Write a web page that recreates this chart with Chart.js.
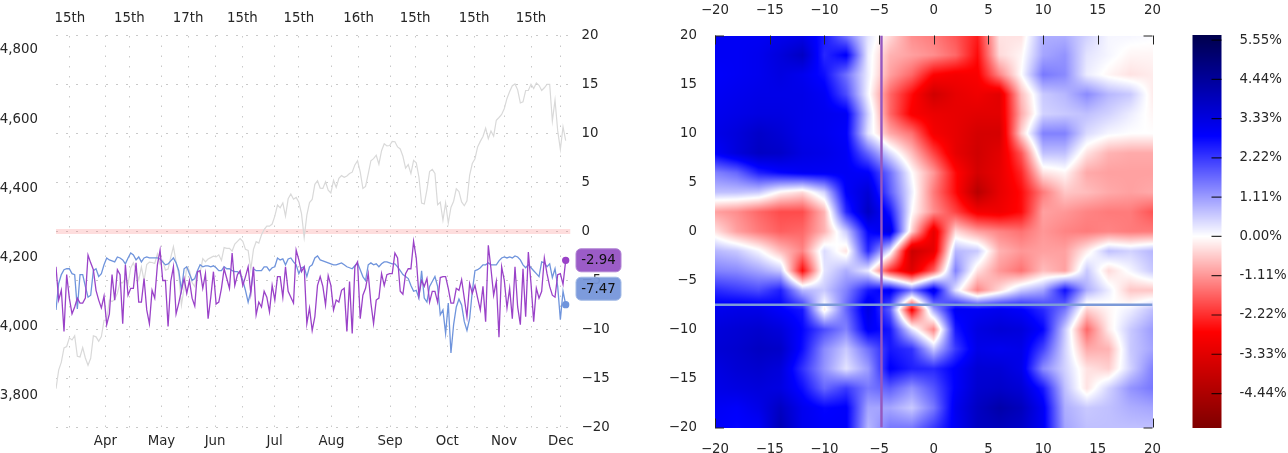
<!DOCTYPE html>
<html>
<head>
<meta charset="utf-8">
<script src="https://cdn.jsdelivr.net/npm/chart.js@4/dist/chart.umd.min.js"></script>
<style>
  html, body { margin: 0; padding: 0; background: #fff; }
  canvas { position: absolute; top: 0; }
</style>
</head>
<body>
<canvas id="lineChart" width="650" height="453" style="left:0"></canvas>
<canvas id="heatChart" width="510" height="453" style="left:660px"></canvas>
<canvas id="barChart" width="108" height="453" style="left:1180px"></canvas>
<script>
// left panel, one value per trading day
const indexValues = [
  3821,3875,3898,3939,3943,3968,3962,3974,3915,3913,3940,3910,3889,3909,3974,3971,3958,3972,
  4019,4019,4077,4073,4079,4097,4128,4127,4141,4124,4170,4185,4163,4135,4173,4134,4180,4187,4186,4183,4211,4181,
  4192,4164,4167,4201,4232,4188,4152,4063,4112,4173,4163,4128,4116,4160,4156,4197,4188,4196,4200,4204,
  4202,4208,4192,4229,4227,4227,4219,4239,4247,4255,4247,4224,4221,4166,4224,4246,4242,4266,4281,4291,4291,4297,
  4320,4352,4344,4358,4320,4370,4384,4369,4374,4360,4327,4258,4323,4359,4368,4412,4422,4401,4400,4419,4395,
  4387,4423,4403,4429,4437,4432,4436,4443,4447,4468,4480,4448,4400,4406,4442,4480,4486,4496,4470,4509,4529,4523,
  4524,4536,4535,4520,4514,4493,4459,4469,4443,4481,4474,4433,4358,4355,4396,4449,4455,4443,4353,4360,4308,
  4358,4300,4345,4363,4399,4391,4361,4350,4364,4438,4472,4486,4520,4536,4550,4574,4544,4566,4551,4597,4605,
  4614,4631,4660,4680,4697,4702,4685,4647,4650,4683,4683,4701,4689,4705,4698,4683,4691,4701,4701,4595,4655,4567,
  4513,4578,4538
];
const purpleValues = [
  -3.6,-7.0,-6.0,-10.2,-4.4,-6.8,-8.4,-7.7,-6.8,-7.3,
  -7.3,-6.8,-2.4,-3.2,-3.9,-6.0,-7.0,-7.8,-6.6,-9.5,
  -8.4,-4.4,-7.0,-3.9,-4.4,-9.4,-3.4,-6.5,-5.8,-5.8,
  -3.2,-7.2,-7.2,-4.8,-8.0,-9.4,-6.0,-6.8,-3.4,-1.9,
  -5.0,-5.0,-9.7,-5.1,-3.6,-8.4,-7.3,-6.0,-4.8,-6.3,
  -5.0,-6.8,-7.6,-4.1,-4.0,-5.8,-4.3,-8.9,-6.7,-4.1,
  -7.4,-7.2,-5.8,-3.8,-4.8,-5.8,-2.2,-5.5,-4.4,-4.0,
  -5.5,-4.6,-3.6,-6.3,-3.6,-8.5,-7.2,-7.7,-6.1,-6.7,
  -8.2,-5.5,-7.0,-4.6,-4.6,-6.7,-3.6,-6.1,-6.7,-7.3,
  -1.9,-2.9,-4.1,-3.6,-9.4,-7.8,-10.1,-8.7,-5.5,-4.6,
  -5.6,-7.5,-4.5,-5.5,-8.0,-7.0,-7.2,-6.0,-5.8,-10.2,
  -5.1,-10.4,-3.6,-3.1,-8.9,-6.5,-5.8,-4.3,-7.3,-9.4,
  -7.0,-6.8,-4.3,-5.5,-4.4,-4.3,-4.3,-2.2,-2.7,-6.1,
  -6.4,-4.3,-3.8,-3.8,-1.0,-2.7,-6.5,-5.0,-5.6,-4.8,
  -7.2,-6.1,-6.1,-7.2,-4.7,-4.6,-4.6,-5.8,-7.3,-7.3,
  -5.8,-6.0,-4.9,-6.8,-8.7,-5.3,-6.3,-5.5,-6.8,-8.0,
  -5.6,-9.2,-1.4,-3.8,-6.5,-5.1,-10.8,-3.6,-5.0,-7.8,
  -5.8,-8.9,-3.6,-7.7,-9.5,-3.8,-8.7,-2.1,-5.3,-9.2,
  -5.8,-6.8,-6.1,-2.7,-4.3,-5.6,-6.5,-6.7,-4.4,-4.3,-5.4,-2.94
];
const blueValues = [
  -8.0,-5.3,-4.4,-3.9,-3.8,-3.8,-4.3,-4.4,-7.9,-4.4,
  -4.4,-5.6,-6.7,-6.5,-4.0,-3.8,-4.6,-4.3,-3.4,-2.7,
  -2.9,-3.0,-3.1,-2.6,-2.7,-2.9,-3.3,-2.7,-2.2,-2.4,
  -2.9,-2.6,-3.1,-2.7,-2.6,-2.7,-2.7,-2.7,-2.7,-2.8,
  -3.1,-3.4,-3.3,-3.0,-2.7,-3.2,-4.0,-6.0,-3.8,-3.6,
  -4.3,-5.0,-4.8,-4.0,-3.4,-3.6,-3.5,-3.5,-3.6,-3.5,
  -3.7,-4.0,-4.0,-3.6,-3.8,-3.8,-4.0,-4.1,-4.1,-4.3,
  -5.0,-6.0,-7.2,-6.1,-3.8,-4.0,-4.0,-4.0,-3.6,-3.6,
  -4.0,-3.7,-3.6,-2.7,-2.9,-2.8,-3.4,-2.8,-2.7,-3.1,
  -3.4,-4.3,-3.7,-3.6,-4.6,-3.6,-3.4,-2.7,-2.5,-2.9,
  -3.0,-3.1,-3.2,-3.3,-3.4,-3.4,-3.3,-3.2,-3.4,-3.6,
  -3.7,-3.8,-3.5,-3.2,-3.9,-4.6,-5.0,-3.4,-3.2,-3.4,
  -3.3,-3.6,-3.3,-3.1,-3.1,-3.2,-3.3,-3.3,-3.6,-4.0,
  -4.4,-4.6,-4.8,-5.5,-6.1,-6.0,-6.8,-4.0,-6.8,-7.2,
  -5.6,-5.1,-4.6,-5.6,-8.5,-8.0,-10.4,-7.3,-12.4,-9.5,
  -7.7,-6.9,-7.5,-9.2,-10.1,-8.9,-6.1,-4.0,-3.9,-3.7,
  -3.4,-3.4,-3.2,-3.4,-3.4,-3.4,-3.0,-2.7,-2.6,-2.7,
  -2.6,-2.7,-2.5,-2.6,-2.9,-3.4,-3.7,-3.4,-3.7,-4.0,
  -4.3,-4.6,-3.1,-3.2,-3.6,-3.3,-4.7,-3.8,-5.6,-9.0,-6.1,-7.47
];
const zeroX = [0, 192.8];
const zeroY = [0, 0];
const monthTicks = [18.5, 39.5, 59.6, 81.9, 103.2, 125.2, 146.6, 167.9, 189.2];
const monthLabels = ['Apr', 'May', 'Jun', 'Jul', 'Aug', 'Sep', 'Oct', 'Nov', 'Dec'];
const midTicks = [5.2, 27.5, 49.5, 69.8, 91, 113.4, 134.6, 156.7, 178];
const midLabels = ['15th', '15th', '17th', '15th', '15th', '16th', '15th', '15th', '15th'];
const leftTicks = [3800, 4000, 4200, 4400, 4600, 4800];
const rightTicks = [20, 15, 10, 5, 0, -5, -10, -15, -20];

// right panel, rows run y = 20 .. -20, columns x = -20 .. 20, step 2
const gridX = [-20,-18,-16,-14,-12,-10,-8,-6,-4,-2,0,2,4,6,8,10,12,14,16,18,20];
const gridY = [20,18,16,14,12,10,8,6,4,2,0,-2,-4,-6,-8,-10,-12,-14,-16,-18,-20];
const heatRows = [
  [3.0,3.0,3.0,3.1,3.2,2.6,1.5,0.3,-0.4,-1.2,-1.4,-1.8,-2.4,-0.3,-0.3,0.9,0.9,0.5,0.1,0.1,0.05],
  [3.0,3.0,3.1,3.4,3.8,2.4,2.9,0.2,-0.8,-1.0,-1.2,-1.6,-2.6,-0.4,-0.1,1.0,1.2,0.3,0.1,-0.1,-0.1],
  [2.9,3.0,3.1,3.3,3.1,2.7,1.6,0.2,-1.0,-1.6,-2.7,-2.9,-2.8,-1.3,0.0,1.5,1.3,0.2,-0.1,-0.3,-0.2],
  [3.0,3.1,3.2,3.2,3.2,3.0,2.0,0.1,-1.6,-2.6,-3.7,-3.2,-3.0,-3.3,-0.7,0.6,0.8,1.3,0.8,0.6,-0.2],
  [3.1,3.2,3.3,3.3,3.2,3.1,3.0,0.5,-1.6,-2.8,-3.1,-3.2,-3.3,-3.3,-0.9,0.5,0.6,0.7,0.5,0.2,-0.1],
  [3.2,3.4,3.7,3.5,3.2,3.1,2.9,0.3,-0.9,-1.5,-2.9,-3.2,-3.6,-3.6,-0.5,1.4,1.4,0.4,0.1,0.0,0.0],
  [2.9,3.4,3.8,3.7,3.3,3.2,3.0,1.7,0.4,-0.7,-2.0,-3.2,-3.7,-3.3,-1.8,0.7,0.7,-0.3,-0.8,-0.9,-0.9],
  [1.4,1.7,2.5,2.8,3.0,3.0,3.0,2.9,1.6,0.0,-1.1,-2.6,-3.6,-3.2,-2.3,-0.3,-0.1,-0.9,-1.0,-1.0,-1.0],
  [0.7,0.7,0.6,-0.1,-0.4,0.5,2.9,3.5,1.8,0.2,-1.4,-2.6,-4.2,-3.2,-2.6,-1.4,-0.6,-0.7,-0.9,-1.0,-0.9],
  [-1.0,-1.2,-1.6,-1.9,-1.9,-0.8,2.4,3.8,2.6,0.0,-1.2,-2.0,-2.9,-3.0,-2.6,-1.0,-1.1,-1.3,-1.4,-1.4,-1.8],
  [-0.3,-1.0,-1.4,-1.7,-1.6,-0.8,0.6,2.8,3.3,-0.5,-3.2,-0.4,-1.0,-1.3,-1.5,-1.1,-1.3,-1.4,-1.3,-1.4,-1.4],
  [0.8,0.6,0.1,-0.7,-1.3,0.4,-0.3,2.4,0.3,-3.8,-3.2,0.8,0.6,-0.8,-1.1,-1.0,-1.0,-0.2,0.7,0.5,0.8],
  [1.4,1.3,1.0,0.6,-2.6,0.3,0.9,0.2,-2.2,-3.4,-1.7,1.4,-0.3,-1.1,-1.5,-0.7,-1.0,0.6,-0.4,0.1,0.6],
  [2.4,2.2,2.0,2.5,0.8,0.6,1.4,2.6,3.0,1.6,3.2,0.3,-1.3,-0.4,0.6,1.0,2.7,0.9,0.2,-0.6,-0.6],
  [3.1,3.2,3.2,2.9,2.6,-0.2,1.7,3.3,1.8,-2.8,1.0,3.0,3.0,3.1,2.9,2.4,1.5,-0.5,-0.1,0.2,0.7],
  [3.4,3.5,3.6,3.4,2.8,2.0,1.4,3.0,2.6,0.3,-1.3,2.6,3.3,3.5,3.4,2.8,0.6,-1.6,-0.2,0.6,1.1],
  [3.5,3.6,3.8,3.7,2.7,1.3,0.6,1.6,2.6,2.3,0.6,2.2,3.2,3.1,3.2,2.1,0.5,-0.9,-0.8,0.6,1.0],
  [3.3,3.5,3.6,3.4,2.3,1.2,0.3,1.1,2.9,2.5,2.4,2.9,3.5,3.5,3.2,1.3,0.5,-0.3,-0.5,0.5,1.4],
  [3.2,3.3,3.4,3.3,2.7,1.7,2.2,1.5,1.8,1.2,1.9,2.9,3.6,3.7,3.5,2.6,0.7,-0.3,0.5,1.2,1.5],
  [3.0,2.9,3.2,3.8,3.1,2.8,2.9,1.0,1.0,0.6,1.5,3.1,3.8,4.2,3.9,3.0,0.9,0.6,0.7,0.9,1.0],
  [2.9,2.8,2.9,4.0,3.1,2.9,2.9,0.8,1.5,1.5,2.2,3.0,3.8,3.9,3.7,3.0,1.0,0.7,0.7,0.7,0.7]
];
const heatTicks = [-20, -15, -10, -5, 0, 5, 10, 15, 20];
const crossVX = [-4.78, -4.78];
const crossVY = [-20, 20];
const crossHX = [-20, 20];
const crossHY = [-7.47, -7.47];

// colour bar
const barTicks = [5.55, 4.44, 3.33, 2.22, 1.11, 0, -1.11, -2.22, -3.33, -4.44];
const barLabels = ['5.55%', '4.44%', '3.33%', '2.22%', '1.11%', '0.00%', '-1.11%', '-2.22%', '-3.33%', '-4.44%'];
const barMin = -5.40;
const barMax = 5.68;

const font = { family: '"DejaVu Sans"', size: 13.33 };
const textColor = '#262626';
const gridColor = '#c9c9c9';
const minus = v => String(v).replace('-', '\u2212');

function setTicks(list) {
    return scale => { scale.ticks = list.map(v => ({ value: v })); };
}

// same idea as matplotlib's seismic, white at zero
function heatColor(v) {
    const mix = (a, b, t) => a.map((c, i) => c + (b[i] - c) * t);
    if (v >= 0) {
        const t = Math.min(v / barMax, 1);
        return t < 0.5 ? mix([255, 255, 255], [0, 0, 255], t * 2) : mix([0, 0, 255], [0, 0, 77], t * 2 - 1);
    }
    const t = Math.min(-v / -barMin, 1);
    return t < 0.5 ? mix([255, 255, 255], [255, 0, 0], t * 2) : mix([255, 0, 0], [127, 0, 0], t * 2 - 1);
}

function heatAt(x, y) {
    const cx = Math.max(0, Math.min((x - gridX[0]) / 2, gridX.length - 1.001));
    const cy = Math.max(0, Math.min((gridY[0] - y) / 2, gridY.length - 1.001));
    const i = Math.floor(cx), j = Math.floor(cy);
    const fx = cx - i, fy = cy - j;
    const top = heatRows[j][i] * (1 - fx) + heatRows[j][i + 1] * fx;
    const bottom = heatRows[j + 1][i] * (1 - fx) + heatRows[j + 1][i + 1] * fx;
    return top * (1 - fy) + bottom * fy;
}

const badgePlugin = {
    id: 'badges',
    afterDraw(chart) {
        const ctx = chart.ctx;
        const yR = chart.scales.yR;
        const rows = [
            { text: '-2.94', fill: 'rgba(146,78,194,0.92)', edge: '#b184d4', y: yR.getPixelForValue(purpleValues[191]) },
            { text: '-7.47', fill: 'rgba(118,150,218,0.95)', edge: '#a3bbe6', y: yR.getPixelForValue(blueValues[191]) - 16 }
        ];
        rows.forEach(r => {
            ctx.save();
            ctx.beginPath();
            ctx.roundRect(576, r.y - 11.5, 45, 23, 5);
            ctx.fillStyle = r.fill;
            ctx.fill();
            ctx.lineWidth = 1;
            ctx.strokeStyle = r.edge;
            ctx.stroke();
            ctx.fillStyle = '#111';
            ctx.font = '13.33px "DejaVu Sans"';
            ctx.textAlign = 'center';
            ctx.textBaseline = 'middle';
            ctx.fillText(r.text, 598.5, r.y + 0.5);
            ctx.restore();
        });
    }
};

const heatPlugin = {
    id: 'heat',
    beforeDatasetsDraw(chart) {
        const area = chart.chartArea;
        const xs = chart.scales.x, ys = chart.scales.y;
        const w = Math.round(area.right - area.left), h = Math.round(area.bottom - area.top);
        const off = document.createElement('canvas');
        off.width = w;
        off.height = h;
        const octx = off.getContext('2d');
        const img = octx.createImageData(w, h);
        for (let py = 0; py < h; py++) {
            for (let px = 0; px < w; px++) {
                const val = heatAt(xs.getValueForPixel(area.left + px + 0.5), ys.getValueForPixel(area.top + py + 0.5));
                const c = heatColor(val);
                const k = (py * w + px) * 4;
                img.data[k] = c[0];
                img.data[k + 1] = c[1];
                img.data[k + 2] = c[2];
                img.data[k + 3] = 255;
            }
        }
        octx.putImageData(img, 0, 0);
        chart.ctx.drawImage(off, area.left, area.top);
    },
    afterDraw(chart) {
        // inward tick marks, the rest sit under the image in the original
        const ctx = chart.ctx;
        const area = chart.chartArea;
        const xs = chart.scales.x, ys = chart.scales.y;
        ctx.save();
        ctx.strokeStyle = '#222';
        ctx.lineWidth = 1;
        ctx.beginPath();
        heatTicks.forEach(v => {
            const p = Math.round(xs.getPixelForValue(v)) + 0.5;
            ctx.moveTo(p, area.top);
            ctx.lineTo(p, area.top + 9);
        });
        [20, -20].forEach(v => {
            const p = Math.round(ys.getPixelForValue(v));
            ctx.moveTo(area.left, p);
            ctx.lineTo(area.left + 9, p);
            ctx.moveTo(area.right, p);
            ctx.lineTo(area.right - 9, p);
        });
        [-20, 20].forEach(v => {
            const p = Math.round(xs.getPixelForValue(v)) + 0.5;
            ctx.moveTo(p, area.bottom);
            ctx.lineTo(p, area.bottom - 9);
        });
        ctx.stroke();
        ctx.restore();
    }
};

const barPlugin = {
    id: 'colorBar',
    beforeDatasetsDraw(chart) {
        const ctx = chart.ctx;
        const area = chart.chartArea;
        const ys = chart.scales.y;
        for (let py = Math.floor(area.top); py < area.bottom; py++) {
            const c = heatColor(ys.getValueForPixel(py + 0.5));
            ctx.fillStyle = `rgb(${c[0]},${c[1]},${c[2]})`;
            ctx.fillRect(area.left, py, area.right - area.left, 1);
        }
        ctx.strokeStyle = 'rgba(0,0,0,0.8)';
        ctx.lineWidth = 1.2;
        ctx.beginPath();
        barTicks.forEach(v => {
            const p = ys.getPixelForValue(v);
            ctx.moveTo(area.right - 10, p);
            ctx.lineTo(area.right, p);
        });
        ctx.stroke();
    }
};

new Chart(document.getElementById('lineChart'), {
    type: 'scatter',
    data: {
        datasets: [
            {
                data: purpleValues.map((y, x) => ({ x, y })),
                yAxisID: 'yR', showLine: true, borderColor: '#9a42c8', borderWidth: 1.3,
                backgroundColor: '#9a42c8',
                pointRadius: c => c.dataIndex === purpleValues.length - 1 ? 3 : 0
            },
            {
                data: blueValues.map((y, x) => ({ x, y })),
                yAxisID: 'yR', showLine: true, borderColor: '#6f94dc', borderWidth: 1.3,
                backgroundColor: '#6f94dc',
                pointRadius: c => c.dataIndex === blueValues.length - 1 ? 3 : 0
            },
            {
                data: indexValues.map((y, x) => ({ x, y })),
                yAxisID: 'yL', showLine: true, borderColor: '#d9d9d9', borderWidth: 1.2, pointRadius: 0
            },
            {
                data: zeroX.map((x, i) => ({ x, y: zeroY[i] })),
                yAxisID: 'yR', showLine: true, borderColor: 'rgba(250,120,120,0.25)', borderWidth: 5, pointRadius: 0
            }
        ]
    },
    options: {
        responsive: false,
        animation: false,
        plugins: { legend: { display: false }, tooltip: { enabled: false } },
        layout: { padding: 0 },
        scales: {
            x: {
                type: 'linear', position: 'bottom', min: 0, max: 192.8,
                afterBuildTicks: setTicks(monthTicks),
                afterFit: s => { s.height = 25.5; },
                ticks: { callback: (v, i) => monthLabels[i], font, color: textColor, padding: 6, maxRotation: 0, autoSkip: false },
                grid: { color: gridColor, drawTicks: false },
                border: { display: false, dash: [1.5, 8.5] }
            },
            x2: {
                type: 'linear', position: 'top', min: 0, max: 192.8,
                afterBuildTicks: setTicks(midTicks),
                afterFit: s => { s.height = 35.5; },
                ticks: { callback: (v, i) => midLabels[i], font, color: textColor, padding: 9, maxRotation: 0, autoSkip: false },
                grid: { color: gridColor, drawTicks: false },
                border: { display: false, dash: [1.5, 8.5] }
            },
            yL: {
                type: 'linear', position: 'left', min: 3709, max: 4842,
                afterBuildTicks: setTicks(leftTicks),
                afterFit: s => { s.width = 56; },
                ticks: { font, color: textColor, padding: 10, autoSkip: false },
                grid: { display: false },
                border: { display: false }
            },
            yR: {
                type: 'linear', position: 'right', min: -20, max: 20,
                afterBuildTicks: setTicks(rightTicks),
                afterFit: s => { s.width = 79.5; },
                ticks: { callback: minus, font, color: textColor, padding: 11, autoSkip: false },
                grid: { color: gridColor, drawTicks: false },
                border: { display: false, dash: [2, 8] }
            }
        }
    },
    plugins: [badgePlugin]
});

new Chart(document.getElementById('heatChart'), {
    type: 'scatter',
    data: {
        datasets: [
            {
                data: crossHX.map((x, i) => ({ x, y: crossHY[i] })),
                showLine: true, borderColor: '#7c9ad8', borderWidth: 2.4, pointRadius: 0
            },
            {
                data: crossVX.map((x, i) => ({ x, y: crossVY[i] })),
                showLine: true, borderColor: '#9558c0', borderWidth: 2.4, pointRadius: 0
            }
        ]
    },
    options: {
        responsive: false,
        animation: false,
        plugins: { legend: { display: false }, tooltip: { enabled: false } },
        layout: { padding: 0 },
        scales: {
            x: {
                type: 'linear', position: 'bottom', min: -20, max: 20,
                afterBuildTicks: setTicks(heatTicks),
                afterFit: s => { s.height = 25.5; },
                ticks: { callback: minus, font, color: textColor, padding: 6, maxRotation: 0, autoSkip: false },
                grid: { display: false }, border: { display: false }
            },
            x2: {
                type: 'linear', position: 'top', min: -20, max: 20,
                afterBuildTicks: setTicks(heatTicks),
                afterFit: s => { s.height = 35.5; },
                ticks: { callback: minus, font, color: textColor, padding: 9, maxRotation: 0, autoSkip: false },
                grid: { display: false }, border: { display: false }
            },
            y: {
                type: 'linear', position: 'left', min: -20, max: 20,
                afterBuildTicks: setTicks(heatTicks),
                afterFit: s => { s.width = 55; },
                ticks: { callback: minus, font, color: textColor, padding: 10, autoSkip: false },
                grid: { display: false }, border: { display: false }
            }
        }
    },
    plugins: [heatPlugin]
});

new Chart(document.getElementById('barChart'), {
    type: 'scatter',
    data: { datasets: [{ data: [], pointRadius: 0 }] },
    options: {
        responsive: false,
        animation: false,
        plugins: { legend: { display: false }, tooltip: { enabled: false } },
        layout: { padding: { left: 12.5, top: 35.5, bottom: 25.5 } },
        scales: {
            x: { type: 'linear', display: false },
            y: {
                type: 'linear', position: 'right', min: barMin, max: barMax,
                afterBuildTicks: setTicks(barTicks),
                afterFit: s => { s.width = 66.5; },
                ticks: { callback: (v, i) => barLabels[i], font, color: textColor, padding: 10, autoSkip: false },
                grid: { display: false }, border: { display: false }
            }
        }
    },
    plugins: [barPlugin]
});
</script>
</body>
</html>
